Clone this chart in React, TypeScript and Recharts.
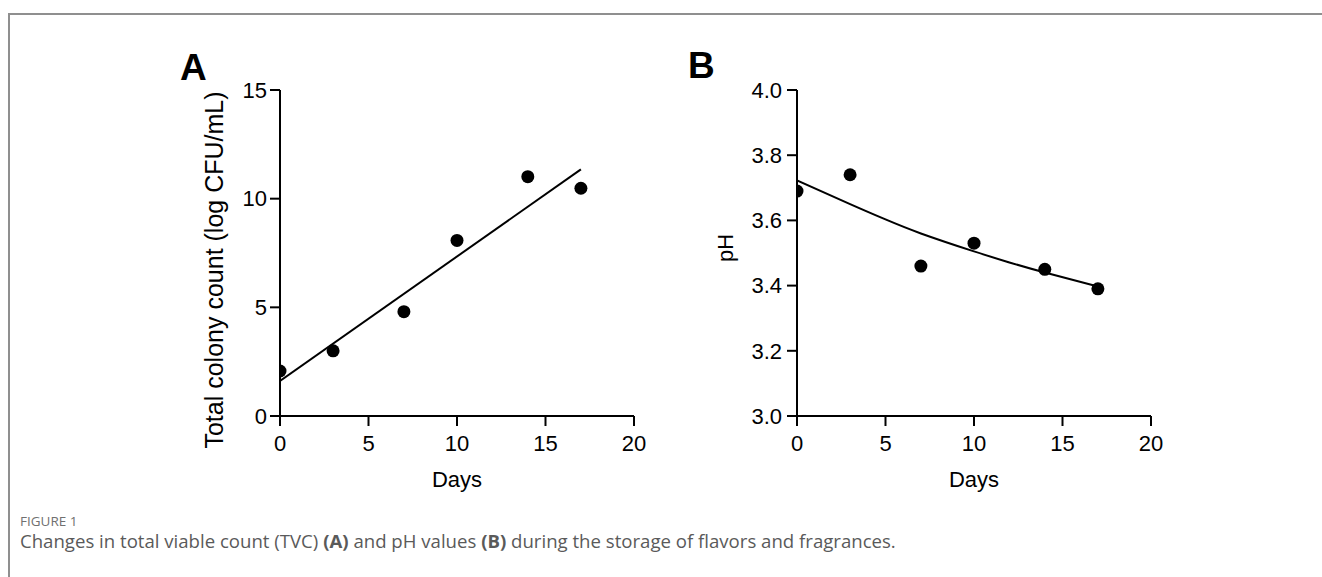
import React from "react";
import { ComposedChart, Scatter, Line, XAxis, YAxis } from "recharts";

const days = [0, 3, 7, 10, 14, 17];
const tvcValues = [2.07, 3.0, 4.8, 8.08, 11.01, 10.48];
const tvcFitDays = [0, 17];
const tvcFitValues = [1.61, 11.35];
const phValues = [3.69, 3.74, 3.46, 3.53, 3.45, 3.39];
const phFitDays = [0, 3, 5, 7, 10, 12, 14, 17];
const phFitValues = [3.723, 3.65, 3.603, 3.56, 3.505, 3.471, 3.44, 3.397];
const xTicks = [0, 5, 10, 15, 20];
const tvcTicks = [0, 5, 10, 15];
const phTicks = [3.0, 3.2, 3.4, 3.6, 3.8, 4.0];

const tvcPoints = days.map((d, i) => ({ x: d, y: tvcValues[i] }));
const tvcFit = tvcFitDays.map((d, i) => ({ x: d, y: tvcFitValues[i] }));
const phPoints = days.map((d, i) => ({ x: d, y: phValues[i] }));
const phFit = phFitDays.map((d, i) => ({ x: d, y: phFitValues[i] }));

const FONT = "Arial, 'Liberation Sans', sans-serif";
const axisStroke = { stroke: "#000", strokeWidth: 2 };
const tickStyle = { fill: "#000", fontSize: 22, fontFamily: FONT };

const Dot = (props: any) => {
  const { cx, cy } = props;
  if (cx == null || cy == null) return null;
  return <circle cx={cx} cy={cy} r={6.5} fill="#000" />;
};

const margin = { top: 50, right: 26, bottom: 13, left: 60 };

function Panel(props: {
  left: number;
  points: any[];
  fit: any[];
  yDomain: [number, number];
  yTicks: number[];
  yLabel: string;
  yLabelSize: number;
  yLabelBaseline: number;
  yLabelShift: number;
  yTickMargin: number;
  fmt?: (v: number) => string;
  curve: "linear" | "natural";
}) {
  const renderYLabel = (lp: any) => {
    const vb = lp.viewBox || {};
    const bx = vb.x + props.yLabelBaseline;
    const by = vb.y + vb.height / 2 + props.yLabelShift;
    return (
      <text
        transform={`translate(${bx},${by}) rotate(-90)`}
        textAnchor="middle"
        fontSize={props.yLabelSize}
        fontFamily={FONT}
        fill="#000"
      >
        {props.yLabel}
      </text>
    );
  };
  return (
    <div style={{ position: "absolute", left: props.left, top: 40 }}>
      <ComposedChart width={520} height={460} margin={margin}>
        <XAxis
          type="number"
          dataKey="x"
          domain={[0, 20]}
          ticks={xTicks}
          allowDataOverflow
          axisLine={axisStroke}
          tickLine={axisStroke}
          tickSize={10}
          tickMargin={9}
          tick={tickStyle}
          height={71}
          interval={0}
          label={{
            value: "Days",
            position: "insideBottom",
            offset: 0,
            style: { fill: "#000", fontSize: 22, fontFamily: FONT },
          }}
        />
        <YAxis
          type="number"
          dataKey="y"
          domain={props.yDomain}
          ticks={props.yTicks}
          allowDataOverflow
          axisLine={axisStroke}
          tickLine={axisStroke}
          tickSize={10}
          tickMargin={props.yTickMargin}
          tick={tickStyle}
          width={80}
          interval={0}
          tickFormatter={props.fmt}
          label={{ value: props.yLabel, content: renderYLabel }}
        />
        <Line
          data={props.fit}
          dataKey="y"
          type={props.curve}
          stroke="#000"
          strokeWidth={2}
          dot={false}
          activeDot={false}
          isAnimationActive={false}
        />
        <Scatter
          data={props.points}
          dataKey="y"
          shape={<Dot />}
          isAnimationActive={false}
        />
      </ComposedChart>
    </div>
  );
}

export default function App() {
  return (
    <div
      style={{
        position: "absolute",
        left: 0,
        top: 0,
        width: 1322,
        height: 577,
        background: "#fff",
        overflow: "hidden",
      }}
    >
      <div
        style={{
          position: "absolute",
          left: 8,
          top: 13,
          right: 0,
          bottom: 0,
          borderTop: "2px solid #8f8f8f",
          borderLeft: "2px solid #8f8f8f",
        }}
      />
      <Panel
        left={140}
        points={tvcPoints}
        fit={tvcFit}
        yDomain={[0, 15]}
        yTicks={tvcTicks}
        yLabel="Total colony count (log CFU/mL)"
        yLabelSize={25}
        yLabelBaseline={23}
        yLabelShift={17}
        yTickMargin={3}
        curve="linear"
      />
      <Panel
        left={657}
        points={phPoints}
        fit={phFit}
        yDomain={[3, 4]}
        yTicks={phTicks}
        yLabel="pH"
        yLabelSize={22}
        yLabelBaseline={16}
        yLabelShift={-5}
        yTickMargin={5}
        fmt={(v: number) => v.toFixed(1)}
        curve="natural"
      />
      <svg
        width={1322}
        height={577}
        style={{ position: "absolute", left: 0, top: 0, pointerEvents: "none" }}
      >
        <text x={180} y={80} fontSize={37} fontWeight="bold" fontFamily={FONT} fill="#000">
          A
        </text>
        <text x={688} y={78} fontSize={37} fontWeight="bold" fontFamily={FONT} fill="#000">
          B
        </text>
        <text x={20} y={526} fontSize={13.5} fontFamily="'Open Sans', sans-serif" fill="#707070">
          FIGURE 1
        </text>
        <text x={20} y={548} fontSize={18.6} fontFamily="'Open Sans', sans-serif" fill="#5a5a5a">
          Changes in total viable count (TVC) <tspan fontWeight="bold">(A)</tspan> and pH values{" "}
          <tspan fontWeight="bold">(B)</tspan> during the storage of flavors and fragrances.
        </text>
      </svg>
    </div>
  );
}
